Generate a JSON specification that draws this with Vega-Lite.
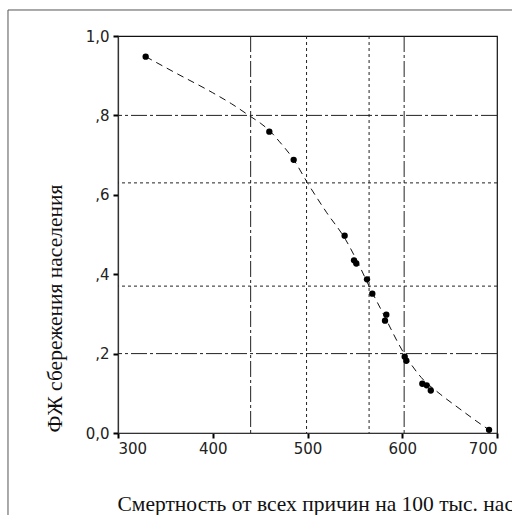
{
  "$schema": "https://vega.github.io/schema/vega-lite/v6.json",
  "width": 379,
  "height": 397,
  "autosize": {"type": "none"},
  "padding": {"left": 118, "top": 36, "right": 15, "bottom": 82},
  "background": "white",
  "config": {
    "view": {"stroke": "#111", "strokeWidth": 1.2},
    "axis": {
      "labelFont": "DejaVu Sans",
      "labelFontSize": 15,
      "labelColor": "#222",
      "titleFont": "Liberation Serif",
      "titleFontSize": 21.5,
      "titleFontWeight": "normal",
      "titleColor": "#111",
      "grid": false,
      "tickColor": "#000",
      "tickSize": 5,
      "tickWidth": 2,
      "domainColor": "#333",
      "domainWidth": 1.2
    }
  },
  "datasets": {
    "points": [
      {"mortality": 329.2, "fzh": 0.948},
      {"mortality": 459.7, "fzh": 0.759},
      {"mortality": 485.4, "fzh": 0.688},
      {"mortality": 539.2, "fzh": 0.497},
      {"mortality": 549.1, "fzh": 0.435},
      {"mortality": 551.5, "fzh": 0.427},
      {"mortality": 562.8, "fzh": 0.387},
      {"mortality": 568.4, "fzh": 0.351},
      {"mortality": 583.2, "fzh": 0.298},
      {"mortality": 581.8, "fzh": 0.283},
      {"mortality": 602.6, "fzh": 0.192},
      {"mortality": 604.3, "fzh": 0.182},
      {"mortality": 621.2, "fzh": 0.124},
      {"mortality": 625.8, "fzh": 0.12},
      {"mortality": 630.1, "fzh": 0.107},
      {"mortality": 691.6, "fzh": 0.008}
    ],
    "curve": [
      {"mortality": 329.2, "fzh": 0.948},
      {"mortality": 360, "fzh": 0.908},
      {"mortality": 400, "fzh": 0.857},
      {"mortality": 420, "fzh": 0.829},
      {"mortality": 440, "fzh": 0.797},
      {"mortality": 450, "fzh": 0.781},
      {"mortality": 459.7, "fzh": 0.762},
      {"mortality": 470, "fzh": 0.735},
      {"mortality": 485, "fzh": 0.69},
      {"mortality": 500, "fzh": 0.63},
      {"mortality": 520, "fzh": 0.556},
      {"mortality": 540, "fzh": 0.488},
      {"mortality": 555, "fzh": 0.42},
      {"mortality": 565, "fzh": 0.37},
      {"mortality": 580, "fzh": 0.3},
      {"mortality": 602, "fzh": 0.2},
      {"mortality": 620, "fzh": 0.14},
      {"mortality": 640, "fzh": 0.098},
      {"mortality": 660, "fzh": 0.062},
      {"mortality": 680, "fzh": 0.027},
      {"mortality": 691.6, "fzh": 0.008}
    ]
  },
  "layer": [
    {
      "data": {"values": [{}]},
      "mark": {"type": "rule", "color": "#555", "strokeWidth": 1, "clip": false},
      "encoding": {
        "x": {"datum": 183.9, "type": "quantitative", "scale": {"domain": [300, 700], "nice": false, "zero": false}},
        "y": {"datum": 1.0655, "type": "quantitative", "scale": {"domain": [0, 1], "nice": false}},
        "y2": {"datum": -0.3}
      }
    },
    {
      "data": {"values": [{}]},
      "mark": {"type": "rule", "color": "#555", "strokeWidth": 1, "clip": false},
      "encoding": {
        "x": {"datum": 183.9, "type": "quantitative", "scale": {"domain": [300, 700], "nice": false, "zero": false}},
        "x2": {"datum": 800},
        "y": {"datum": 1.0655, "type": "quantitative", "scale": {"domain": [0, 1], "nice": false}}
      }
    },
    {
      "data": {"values": [{"v": 440}, {"v": 602}]},
      "mark": {"type": "rule", "color": "#222", "strokeWidth": 1, "strokeDash": [16, 3, 3, 3]},
      "encoding": {"x": {"field": "v", "type": "quantitative", "scale": {"domain": [300, 700], "nice": false, "zero": false}}}
    },
    {
      "data": {"values": [{"v": 499}, {"v": 565}]},
      "mark": {"type": "rule", "color": "#222", "strokeWidth": 1, "strokeDash": [3, 3]},
      "encoding": {"x": {"field": "v", "type": "quantitative", "scale": {"domain": [300, 700], "nice": false, "zero": false}}}
    },
    {
      "data": {"values": [{"v": 0.8}, {"v": 0.2}]},
      "mark": {"type": "rule", "color": "#222", "strokeWidth": 1, "strokeDash": [16, 3, 3, 3]},
      "encoding": {"y": {"field": "v", "type": "quantitative", "scale": {"domain": [0, 1], "nice": false}}}
    },
    {
      "data": {"values": [{"v": 0.63}, {"v": 0.37}]},
      "mark": {"type": "rule", "color": "#222", "strokeWidth": 1, "strokeDash": [3, 3]},
      "encoding": {"y": {"field": "v", "type": "quantitative", "scale": {"domain": [0, 1], "nice": false}}}
    },
    {
      "data": {"name": "curve"},
      "mark": {"type": "line", "color": "#111", "strokeWidth": 1, "strokeDash": [7, 5], "interpolate": "monotone"},
      "encoding": {
        "x": {"field": "mortality", "type": "quantitative", "scale": {"domain": [300, 700], "nice": false, "zero": false}},
        "y": {"field": "fzh", "type": "quantitative", "scale": {"domain": [0, 1], "nice": false}}
      }
    },
    {
      "data": {"name": "points"},
      "mark": {"type": "circle", "color": "#000", "opacity": 1, "size": 40},
      "encoding": {
        "x": {
          "field": "mortality",
          "type": "quantitative",
          "scale": {"domain": [300, 700], "nice": false, "zero": false},
          "axis": {
            "values": [300, 400, 500, 600, 700],
            "title": "Смертность от всех причин на 100 тыс. населения",
            "titleAnchor": "start",
            "titleAlign": "left",
            "titleBaseline": "alphabetic",
            "titleY": 77,
            "titleX": -1,
            "labelPadding": 3
          }
        },
        "y": {
          "field": "fzh",
          "type": "quantitative",
          "scale": {"domain": [0, 1], "nice": false},
          "axis": {
            "values": [0, 0.2, 0.4, 0.6, 0.8, 1],
            "labelExpr": "datum.value == 0 ? '0,0' : datum.value == 1 ? '1,0' : ',' + format(datum.value * 10, 'd')",
            "title": "ФЖ сбережения населения",
            "titleAnchor": "start",
            "titleAlign": "left",
            "titleBaseline": "middle",
            "titleX": -63,
            "titleY": 396,
            "labelPadding": 4
          }
        }
      }
    }
  ]
}
